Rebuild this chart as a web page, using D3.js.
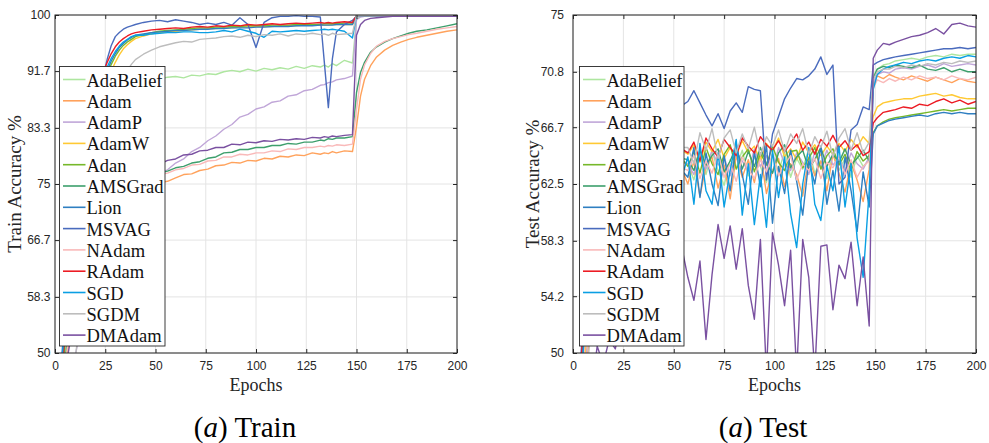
<!DOCTYPE html>
<html>
<head>
<meta charset="utf-8">
<script src="https://cdn.jsdelivr.net/npm/d3@7"></script>
<style>
  body { margin: 0; background: #fff; }
  svg { display: block; }
</style>
</head>
<body>
<div id="chart"></div>
<script>
// Optimizer names (legend order = drawing order)
const optimizers = ["AdaBelief", "Adam", "AdamP", "AdamW", "Adan", "AMSGrad", "Lion",
  "MSVAG", "NAdam", "RAdam", "SGD", "SGDM", "DMAdam"];

const colors = ["#aee6a0", "#ffa25c", "#c0a6d8", "#ffc933", "#76b82a", "#3d9f6c", "#2f7fc1",
  "#4a6bbd", "#f9b9b9", "#ec1c24", "#0a9fe3", "#bdbdbd", "#7a51a1"];

const xTicks = [0, 25, 50, 75, 100, 125, 150, 175, 200];
const trainTicks = [50, 58.3, 66.7, 75, 83.3, 91.7, 100];
const testTicks = [50, 54.2, 58.3, 62.5, 66.7, 70.8, 75];

// ---------- Train accuracy (%) ----------
const trainEpochs = [0, 2, 4, 6, 8, 10, 12, 14, 16, 18, 20, 22, 24, 26, 28, 30, 32, 34, 36, 38, 40,
  44, 48, 52, 56, 60, 64, 68, 72, 76, 80, 84, 88, 92, 96, 100, 104, 108, 112, 116, 120, 124, 128, 132,
  134, 136, 138, 140, 144, 148,
  150, 152, 154, 157, 160, 164, 168, 172, 176, 180, 185, 190, 195, 200];

const trainAdaBelief = [30, 38, 46, 53, 59, 64.5, 69, 73, 76.5, 79.5, 82, 84, 85.7, 87, 88, 88.8, 89.4, 89.8, 90.1, 90.3, 90.4,
  90.4, 90.6, 90.5, 90.8, 90.9, 90.7, 91.1, 91.0, 91.3, 91.2, 91.6, 91.8, 91.6, 92.0, 91.7, 92.1, 91.9, 92.2, 92.0, 92.4, 92.1, 92.5, 92.3,
  92.6, 92.3, 92.8, 92.5, 93.3, 92.9,
  99.4, 99.8, 99.9, 99.9, 99.9, 99.9, 99.9, 99.9, 99.9, 99.9, 99.9, 99.9, 99.9, 99.9];
const trainAdam = [28, 36, 43.5, 49.5, 54, 57.5, 60.2, 62.4, 64.2, 65.7, 67.0, 68.1, 69.0, 69.9, 70.7, 71.4, 72.0, 72.5, 73.0, 73.4, 73.8,
  74.5, 74.8, 75.2, 75.4, 75.9, 76.4, 76.5, 77.0, 77.2, 77.7, 77.8, 78.2, 78.1, 78.5, 78.4, 78.8, 78.7, 79.1, 79.0, 79.3, 79.2, 79.6, 79.4,
  79.6, 79.5, 79.8, 79.6, 79.9, 79.8,
  83.5, 88.0, 90.5, 92.5, 93.8, 94.8, 95.5, 96.0, 96.4, 96.7, 97.0, 97.3, 97.6, 97.8];
const trainAdamP = [25, 31, 37, 42, 46, 49.5, 52.5, 55, 57.5, 59.5, 61.5, 63.3, 65, 66.5, 68, 69.2, 70.3, 71.3, 72.2, 73.0, 73.7,
  74.8, 75.6, 76.6, 77.1, 78.1, 78.7, 79.8, 80.4, 81.4, 82.1, 83.1, 83.8, 84.9, 85.3, 86.1, 86.4, 87.1, 87.3, 88.0, 88.2, 88.8, 89.0, 89.6,
  89.7, 90.0, 90.1, 90.4, 90.6, 91.0,
  99.3, 99.7, 99.8, 99.9, 99.9, 99.9, 99.9, 99.9, 99.9, 99.9, 99.9, 99.9, 99.9, 99.9];
const trainAdamW = [28, 36, 44, 51, 58, 64, 69, 73.5, 77.5, 81, 84, 86.5, 88.5, 90.2, 91.7, 93.0, 94.1, 95.0, 95.6, 96.1, 96.5,
  96.9, 97.2, 97.4, 97.5, 97.6, 97.7, 97.8, 97.9, 98.0, 98.0, 98.1, 98.1, 98.2, 98.2, 98.3, 98.3, 98.3, 98.4, 98.4, 98.4, 98.5, 98.5, 98.5,
  98.5, 98.5, 98.6, 98.6, 98.6, 98.6,
  99.9, 99.9, 99.9, 99.9, 99.9, 99.9, 99.9, 99.9, 99.9, 99.9, 99.9, 99.9, 99.9, 99.9];
const trainAdan = [31, 40, 48, 55, 62, 67.5, 72, 76, 79.5, 82.5, 85.2, 87.5, 89.5, 91.2, 92.7, 93.9, 94.8, 95.5, 96.0, 96.4, 96.8,
  97.1, 97.4, 97.6, 97.7, 97.8, 97.9, 98.0, 98.1, 98.1, 98.2, 98.2, 98.3, 98.3, 98.4, 98.4, 98.4, 98.5, 98.5, 98.5, 98.6, 98.6, 98.6, 98.6,
  98.7, 98.7, 98.7, 98.7, 98.8, 98.8,
  99.9, 99.9, 99.9, 99.9, 99.9, 99.9, 99.9, 99.9, 99.9, 99.9, 99.9, 99.9, 99.9, 99.9];
const trainAMSGrad = [30, 38, 45.5, 51.5, 56, 59.5, 62, 64.2, 66, 67.5, 68.8, 69.9, 70.8, 71.6, 72.3, 73.0, 73.6, 74.1, 74.5, 74.9, 75.3,
  75.8, 76.1, 76.6, 76.9, 77.4, 77.6, 78.1, 78.3, 78.8, 79.0, 79.6, 79.7, 80.1, 80.1, 80.4, 80.4, 80.7, 80.7, 81.0, 80.9, 81.2, 81.2, 81.5,
  81.4, 81.7, 81.6, 81.8, 81.8, 82.0,
  88.5, 91.5, 93.0, 94.5, 95.3, 96.0, 96.5, 96.9, 97.3, 97.6, 97.8, 98.1, 98.4, 98.7];
const trainLion = [34, 42, 50, 57, 63, 69, 73.5, 77.5, 81, 84, 86.5, 88.5, 90.3, 91.8, 93.2, 94.3, 95.2, 95.8, 96.3, 96.7, 97.0,
  97.2, 97.4, 97.5, 97.6, 97.7, 97.7, 97.8, 97.9, 97.9, 98.0, 98.0, 98.1, 98.1, 98.1, 98.2, 98.2, 98.3, 98.3, 98.3, 98.4, 98.4, 98.4, 98.5,
  98.5, 98.5, 98.5, 98.6, 98.6, 98.6,
  99.9, 99.9, 99.9, 99.9, 99.9, 99.9, 99.9, 99.9, 99.9, 99.9, 99.9, 99.9, 99.9, 99.9];
const trainMSVAG = [36, 44, 52, 59, 65, 70, 74, 78, 81, 84, 86.5, 89, 91, 93.5, 95.5, 96.8, 97.4, 97.9, 98.2, 98.4, 98.6,
  98.9, 99.1, 99.2, 99.0, 99.3, 99.1, 98.9, 98.6, 98.8, 98.6, 98.9, 98.5, 99.6, 98.6, 95.2, 98.9, 99.6, 99.8, 99.8, 99.9, 99.8, 99.8, 99.7,
  93.0, 86.3, 93.5, 97.5, 98.6, 99.2,
  99.8, 99.9, 99.9, 99.9, 99.9, 99.9, 99.9, 99.9, 99.9, 99.9, 99.9, 99.9, 99.9, 99.9];
const trainNAdam = [29, 37, 44.5, 50.5, 55, 58.5, 61.2, 63.4, 65.2, 66.8, 68.1, 69.2, 70.2, 71.0, 71.8, 72.5, 73.1, 73.6, 74.1, 74.5, 74.9,
  75.6, 75.8, 76.4, 76.6, 77.1, 77.3, 77.8, 77.9, 78.4, 78.5, 79.0, 79.0, 79.4, 79.3, 79.6, 79.6, 79.9, 79.8, 80.2, 80.1, 80.4, 80.4, 80.6,
  80.5, 80.7, 80.6, 80.8, 80.7, 80.9,
  86.0, 90.5, 92.6, 94.3, 95.4, 96.1, 96.5, 96.8, 97.1, 97.3, 97.6, 97.9, 98.1, 98.3];
const trainRAdam = [30, 40, 49, 57, 64, 70, 75, 79, 82.5, 85.5, 88, 90, 91.5, 93, 94.3, 95.3, 96.0, 96.5, 96.9, 97.2, 97.4,
  97.6, 97.8, 97.9, 98.0, 98.1, 98.0, 98.2, 98.3, 98.2, 98.4, 98.3, 98.5, 98.4, 98.6, 98.5, 98.6, 98.7, 98.6, 98.7, 98.8, 98.7, 98.8, 98.9,
  98.8, 98.9, 98.8, 98.9, 99.0, 98.9,
  99.9, 99.9, 99.9, 99.9, 99.9, 99.9, 99.9, 99.9, 99.9, 99.9, 99.9, 99.9, 99.9, 99.9];
const trainSGD = [33, 43, 51, 58, 64, 69.5, 74, 78, 81.5, 84.5, 87, 89, 90.8, 92.3, 93.6, 94.6, 95.4, 96.0, 96.4, 96.8, 97.0,
  97.0, 97.2, 97.3, 97.4, 97.4, 97.5, 97.5, 97.4, 97.4, 97.5, 97.7, 97.5, 97.9, 97.6, 97.3, 96.7, 97.6, 97.5, 97.6, 97.7, 97.6, 97.7, 97.8,
  97.9, 97.8, 97.9, 97.8, 97.6, 96.6,
  99.9, 99.9, 99.9, 99.9, 99.9, 99.9, 99.9, 99.9, 99.9, 99.9, 99.9, 99.9, 99.9, 99.9];
const trainSGDM = [25, 30, 35, 40, 44, 49, 54, 59, 64, 68.5, 72.5, 76.5, 80, 83, 85.5, 87.5, 89.3, 90.7, 91.8, 92.7, 93.4,
  94.2, 94.8, 95.3, 95.6, 95.9, 96.1, 96.0, 96.4, 96.5, 96.6, 96.8, 96.9, 96.7, 97.0, 96.8, 97.1, 97.0, 97.2, 96.9, 97.2, 97.1, 97.3, 97.1,
  97.2, 97.0, 97.3, 97.1, 97.2, 97.3,
  99.9, 99.9, 99.9, 99.9, 99.9, 99.9, 99.9, 99.9, 99.9, 99.9, 99.9, 99.9, 99.9, 99.9];
const trainDMAdam = [38, 42.5, 46, 49, 52.5, 56, 59, 61.8, 64, 66, 67.8, 69.3, 70.6, 71.7, 72.6, 73.4, 74.1, 74.7, 75.3, 75.8, 76.2,
  77.0, 77.6, 77.9, 78.5, 78.7, 79.3, 79.4, 79.9, 80.0, 80.4, 80.4, 80.9, 80.8, 81.2, 81.1, 81.4, 81.3, 81.6, 81.5, 81.7, 81.6, 81.9, 81.8,
  82.0, 81.9, 82.1, 82.0, 82.2, 82.3,
  97.0, 98.6, 99.2, 99.5, 99.6, 99.7, 99.8, 99.8, 99.8, 99.8, 99.8, 99.8, 99.8, 99.8];

// ---------- Test accuracy (%) ----------
const testEpochs = [0, 3, 6, 9, 12, 15, 18, 21, 24, 27, 30, 33, 36, 39, 42, 45, 48, 51, 54,
  57, 60, 63, 66, 69, 72, 75, 78, 81, 84, 87, 90, 93, 96, 99, 102, 105, 108, 111, 114, 117, 120, 123, 126, 129, 132, 135, 138, 141, 144, 147,
  149, 151, 154, 157, 160, 164, 168, 172, 176, 180, 184, 188, 192, 196, 200];

const testAdaBelief = [36, 45, 52, 56, 58.5, 60, 61, 61.8, 62.4, 62.8, 63.1, 63.3, 63.5, 63.7, 63.8, 63.9, 64.0, 63.8, 64.1,
  64.0, 62.8, 64.6, 63.2, 64.9, 63.5, 62.4, 64.3, 63.7, 65.0, 63.1, 64.5, 63.8, 62.6, 64.7, 63.4, 64.9, 63.0, 64.4, 63.6, 65.1, 63.3, 64.2, 62.9, 64.8, 63.5, 64.4, 63.0, 64.6, 63.8, 64.3,
  70.5, 71.0, 71.3, 71.4, 71.6, 71.7, 71.8, 71.7, 71.9, 72.0, 71.9, 72.1, 72.0, 72.1, 72.1];
const testAdam = [31, 41, 48, 52.5, 55.5, 57.5, 59, 60.2, 61, 61.7, 62.2, 62.6, 62.9, 63.1, 63.3, 63.4, 63.5, 63.6, 63.6,
  62.5, 64.2, 61.6, 63.8, 64.5, 62.2, 63.9, 61.4, 64.6, 63.0, 64.3, 62.6, 64.8, 61.8, 63.5, 64.4, 62.3, 64.0, 63.2, 61.6, 64.5, 63.1, 64.2, 62.0, 64.7, 63.3, 61.9, 64.1, 62.8, 61.2, 63.6,
  69.8, 70.5, 70.3, 70.6, 70.4, 70.2, 70.5, 70.3, 70.1, 70.4, 70.2, 70.0, 70.3, 70.1, 70.0];
const testAdamP = [32, 42, 49, 53.5, 56.5, 58.5, 60, 61, 61.8, 62.4, 62.9, 63.2, 63.5, 63.7, 63.8, 63.9, 64.0, 64.0, 64.1,
  64.0, 63.2, 64.8, 63.6, 65.0, 63.9, 64.5, 63.1, 64.9, 64.2, 63.4, 65.1, 63.8, 64.6, 63.3, 65.2, 64.0, 63.5, 64.8, 64.1, 63.2, 64.9, 63.7, 65.0, 63.9, 64.4, 63.4, 64.8, 64.0, 63.6, 64.5,
  70.0, 70.6, 70.8, 70.7, 71.0, 71.1, 71.0, 71.2, 71.3, 71.1, 71.4, 71.2, 71.3, 71.4, 71.3];
const testAdamW = [33, 43, 50, 54.5, 57.5, 59.5, 61, 62, 62.8, 63.4, 63.8, 64.1, 64.3, 64.5, 64.6, 64.7, 64.8, 64.9, 65.0,
  64.7, 65.4, 64.1, 65.6, 64.9, 65.8, 64.4, 65.2, 64.6, 65.7, 64.8, 65.3, 64.2, 65.5, 64.9, 65.9, 64.5, 65.1, 64.3, 65.6, 64.8, 65.4, 64.6, 65.3, 64.7, 65.5, 64.9, 65.8, 65.2, 66.0, 65.5,
  67.5, 68.2, 68.5, 68.6, 68.7, 68.8, 68.8, 69.0, 69.1, 69.2, 69.0, 69.1, 68.9, 68.8, 68.8];
const testAdan = [36, 46, 52.5, 56.5, 59, 60.5, 61.5, 62.3, 62.9, 63.3, 63.6, 63.8, 64.0, 64.1, 64.2, 64.3, 64.3, 64.4, 64.4,
  63.8, 64.9, 63.3, 65.2, 64.0, 63.2, 64.7, 65.4, 63.6, 64.5, 65.1, 63.4, 64.8, 63.9, 65.3, 64.1, 63.5, 64.9, 65.0, 63.7, 64.4, 65.2, 63.6, 64.6, 65.1, 63.9, 64.7, 63.5, 64.9, 64.2, 64.6,
  66.3, 66.8, 67.1, 67.3, 67.4, 67.5, 67.6, 67.7, 67.8, 67.9, 68.0, 67.9, 68.0, 68.1, 68.1];
const testAMSGrad = [35, 45, 52, 56, 58.5, 60, 61.2, 62, 62.6, 63.1, 63.4, 63.7, 63.9, 64.0, 64.1, 64.2, 64.3, 64.3, 64.4,
  64.3, 63.5, 65.0, 63.9, 64.6, 65.1, 63.4, 64.2, 65.3, 63.6, 64.9, 63.8, 65.2, 64.0, 63.3, 64.8, 65.4, 63.7, 64.5, 65.0, 63.6, 64.3, 65.2, 63.8, 64.7, 64.1, 65.1, 63.9, 64.4, 65.0, 64.2,
  70.3, 71.0, 71.2, 71.1, 71.3, 71.2, 71.1, 71.3, 71.0, 70.9, 71.1, 70.8, 71.0, 70.8, 70.8];
const testLion = [37, 47, 53, 56.5, 58.5, 60, 59, 61.5, 60.5, 62.5, 61, 63, 62, 60.5, 63.5, 62, 64, 61.5, 63.5,
  63.0, 65.2, 61.5, 64.8, 62.5, 60.9, 64.6, 62.0, 65.5, 63.2, 61.0, 64.9, 62.3, 65.4, 59.6, 63.8, 61.8, 65.0, 62.7, 60.2, 64.2, 62.5, 65.3, 61.0, 63.5, 60.5, 64.5, 62.0, 59.0, 63.4, 60.8,
  66.2, 66.8, 67.0, 67.2, 67.3, 67.4, 67.5, 67.6, 67.5, 67.7, 67.8, 67.7, 67.8, 67.7, 67.7];
const testMSVAG = [38, 48, 54, 58, 60.5, 62, 63.2, 64, 64.8, 65.3, 65.8, 66.2, 66.6, 67, 67.3, 67.6, 67.9, 68.1, 68.3,
  68.6, 69.4, 68.5, 67.6, 66.8, 67.7, 66.6, 67.9, 68.5, 67.8, 69.7, 69.5, 69.4, 62.8, 66.2, 67.5, 68.8, 69.6, 70.3, 70.2, 70.5, 71.0, 71.9, 70.6, 71.3, 62.5, 63.0, 66.5, 66.9, 68.2, 68.0,
  71.3, 71.5, 71.7, 71.8, 71.9, 72.0, 72.1, 72.2, 72.3, 72.4, 72.5, 72.5, 72.6, 72.5, 72.6];
const testNAdam = [34, 44, 51, 55, 57.8, 59.5, 60.8, 61.6, 62.2, 62.6, 62.9, 63.1, 63.3, 63.4, 63.5, 63.6, 63.6, 63.7, 63.7,
  63.5, 64.6, 62.9, 64.2, 63.3, 64.8, 63.0, 64.0, 62.7, 64.5, 63.6, 62.9, 64.3, 63.4, 64.7, 63.1, 63.9, 64.6, 62.8, 64.0, 63.5, 64.4, 62.9, 64.1, 63.7, 64.5, 63.2, 64.3, 63.0, 63.8, 64.2,
  69.6, 70.2, 70.0, 70.3, 70.1, 70.4, 70.2, 70.5, 70.3, 70.4, 70.2, 70.5, 70.3, 70.2, 70.4];
const testRAdam = [38, 47, 54, 58, 60.5, 61.8, 62.7, 63.4, 63.9, 64.2, 64.5, 64.8, 64.6, 65.0, 64.8, 65.2, 65.0, 65.3, 65.1,
  64.8, 65.6, 64.2, 65.9, 65.1, 64.5, 65.8, 65.2, 64.6, 65.9, 65.3, 64.8, 66.0, 65.4, 65.0, 65.7, 64.9, 65.5, 66.2, 65.0, 65.6, 64.7, 65.8, 65.3, 66.1, 65.2, 65.7, 65.0, 65.4, 64.6, 64.9,
  67.0, 67.4, 67.8, 67.9, 68.0, 68.2, 68.1, 68.4, 68.3, 68.6, 68.8, 68.5, 68.7, 68.4, 68.6];
const testSGD = [35, 46, 52, 56, 58, 59.5, 61, 60, 62, 61, 63, 60.5, 62.5, 64, 61, 63.5, 62, 64.5, 63,
  64.5, 61.0, 65.5, 62.0, 61.0, 64.8, 60.8, 63.5, 65.8, 60.2, 64.0, 59.5, 63.2, 59.3, 65.0, 61.5, 64.5, 60.3, 57.8, 62.5, 65.2, 61.0, 59.8, 63.8, 62.0, 65.3, 60.8, 64.0, 58.5, 55.6, 62.0,
  69.5, 70.6, 71.0, 71.2, 71.3, 71.5, 71.4, 71.6, 71.7, 71.6, 71.8, 71.9, 71.8, 72.0, 71.9];
const testSGDM = [30, 40, 47, 52, 56, 58.5, 60.5, 61.8, 62.7, 63.4, 63.9, 64.3, 64.7, 64.9, 65.1, 65.3, 65.0, 65.4, 65.2,
  65.2, 64.0, 66.3, 65.0, 66.6, 64.4, 65.9, 66.5, 64.8, 66.2, 65.1, 66.7, 64.6, 66.0, 65.3, 66.5, 64.9, 66.2, 65.5, 66.6, 64.7, 66.0, 65.2, 66.4, 64.5, 65.9, 66.6, 65.0, 66.3, 64.8, 65.6,
  70.2, 70.8, 71.0, 71.0, 71.2, 71.1, 71.3, 71.2, 71.4, 71.3, 71.5, 71.4, 71.6, 71.5, 71.6];
const testDMAdam = [35, 40, 44, 47, 50.5, 49.2, 51.0, 50.3, 52.5, 51.5, 54, 53, 55.5, 54, 56.5, 55, 57.5, 55.5, 57.8,
  55.6, 53.9, 56.8, 51.0, 55.8, 59.5, 57.0, 59.4, 56.2, 59.2, 55.0, 52.5, 58.4, 48.5, 58.9, 56.5, 53.5, 57.6, 48.5, 58.4, 55.6, 48.5, 57.9, 58.0, 53.2, 56.5, 55.5, 58.2, 53.5, 57.1, 52.0,
  71.8, 72.4, 72.9, 72.8, 73.0, 73.2, 73.4, 73.5, 73.7, 74.0, 73.6, 74.3, 74.4, 74.2, 74.1];

const trainSeries = [trainAdaBelief, trainAdam, trainAdamP, trainAdamW, trainAdan, trainAMSGrad, trainLion,
  trainMSVAG, trainNAdam, trainRAdam, trainSGD, trainSGDM, trainDMAdam];
const testSeries = [testAdaBelief, testAdam, testAdamP, testAdamW, testAdan, testAMSGrad, testLion,
  testMSVAG, testNAdam, testRAdam, testSGD, testSGDM, testDMAdam];

// Layout
const width = 989;
const height = 443;
const plotTop = 15;
const plotBottom = 353;
const axisColor = "#262626";
const tickFont = "'Liberation Sans', Arial, sans-serif";
const serifFont = "'Liberation Serif', 'Times New Roman', 'DejaVu Serif', serif";

const svg = d3.select("#chart")
  .append("svg")
  .attr("width", width)
  .attr("height", height);

const defs = svg.append("defs");

function drawPanel(p) {

  const x = d3.scaleLinear()
    .domain([0, 200])
    .range([p.left, p.right]);

  const y = d3.scaleLinear()
    .domain([50, p.yMax])
    .range([plotBottom, plotTop]);

  const g = svg.append("g");

  // clip to plot area
  defs.append("clipPath")
    .attr("id", "clip-" + p.id)
    .append("rect")
    .attr("x", p.left)
    .attr("y", plotTop)
    .attr("width", p.right - p.left)
    .attr("height", plotBottom - plotTop);

  // grid
  g.append("g")
    .selectAll("line")
    .data(xTicks)
    .join("line")
    .attr("x1", d => x(d))
    .attr("x2", d => x(d))
    .attr("y1", plotTop)
    .attr("y2", plotBottom)
    .attr("stroke", "#e4e4e4");

  g.append("g")
    .selectAll("line")
    .data(p.yTicks)
    .join("line")
    .attr("x1", p.left)
    .attr("x2", p.right)
    .attr("y1", d => y(d))
    .attr("y2", d => y(d))
    .attr("stroke", "#e4e4e4");

  // curves
  const line = d3.line()
    .x((d, i) => x(p.epochs[i]))
    .y(d => y(d));

  g.append("g")
    .attr("clip-path", `url(#clip-${p.id})`)
    .selectAll("path")
    .data(p.series)
    .join("path")
    .attr("d", d => line(d))
    .attr("fill", "none")
    .attr("stroke", (d, i) => colors[i])
    .attr("stroke-width", 1.4)
    .attr("stroke-linejoin", "round");

  // axes (ticks inside, mirrored on top/right)
  const styleAxis = sel => {
    sel.select(".domain").remove();
    sel.attr("font-family", tickFont).attr("font-size", 12);
    sel.selectAll("line").attr("stroke", axisColor);
    sel.selectAll("text").attr("fill", axisColor);
  };

  g.append("g")
    .attr("transform", `translate(0, ${plotBottom})`)
    .call(d3.axisBottom(x).tickValues(xTicks).tickSizeInner(-4).tickSizeOuter(0).tickPadding(8))
    .call(styleAxis);

  g.append("g")
    .attr("transform", `translate(0, ${plotTop})`)
    .call(d3.axisTop(x).tickValues(xTicks).tickSizeInner(-4).tickSizeOuter(0).tickFormat(() => ""))
    .call(styleAxis);

  g.append("g")
    .attr("transform", `translate(${p.left}, 0)`)
    .call(d3.axisLeft(y).tickValues(p.yTicks).tickSizeInner(-4).tickSizeOuter(0)
      .tickPadding(p.labelPad).tickFormat(d => d))
    .call(styleAxis);

  g.append("g")
    .attr("transform", `translate(${p.right}, 0)`)
    .call(d3.axisRight(y).tickValues(p.yTicks).tickSizeInner(-4).tickSizeOuter(0).tickFormat(() => ""))
    .call(styleAxis);

  // box
  g.append("rect")
    .attr("x", p.left)
    .attr("y", plotTop)
    .attr("width", p.right - p.left)
    .attr("height", plotBottom - plotTop)
    .attr("fill", "none")
    .attr("stroke", axisColor)
    .attr("stroke-width", 1);

  // axis titles
  g.append("text")
    .attr("x", (p.left + p.right) / 2)
    .attr("y", 391)
    .attr("text-anchor", "middle")
    .attr("fill", axisColor)
    .attr("font-family", serifFont)
    .attr("font-size", 18)
    .text("Epochs");

  g.append("text")
    .attr("transform", `translate(${p.left - 34}, ${(plotTop + plotBottom) / 2}) rotate(-90)`)
    .attr("text-anchor", "middle")
    .attr("fill", axisColor)
    .attr("font-family", serifFont)
    .attr("font-size", 19)
    .text(p.yLabel);

  // legend
  const lg = g.append("g");
  lg.append("rect")
    .attr("x", p.legendX)
    .attr("y", 66.5)
    .attr("width", p.legendW)
    .attr("height", 279.5)
    .attr("fill", "#fff")
    .attr("stroke", axisColor)
    .attr("stroke-width", 0.9);

  const rows = lg.selectAll(".row")
    .data(optimizers)
    .join("g")
    .attr("class", "row")
    .attr("transform", (d, i) => `translate(${p.legendX}, ${86.5 + i * 21.3})`);

  rows.append("line")
    .attr("x1", 3.5)
    .attr("x2", 26)
    .attr("y1", -7)
    .attr("y2", -7)
    .attr("stroke", (d, i) => colors[i])
    .attr("stroke-width", 1.6);

  rows.append("text")
    .attr("x", 27)
    .attr("y", 0)
    .attr("fill", "#111")
    .attr("font-family", serifFont)
    .attr("font-size", 18.5)
    .text(d => d);

  // caption
  const cap = g.append("text")
    .attr("x", p.captionX)
    .attr("y", 437)
    .attr("text-anchor", "middle")
    .attr("fill", "#000")
    .attr("font-family", serifFont)
    .attr("font-size", 29);
  cap.append("tspan").text("(");
  cap.append("tspan").attr("font-style", "italic").text("a");
  cap.append("tspan").text(") " + p.caption);
}

drawPanel({
  id: "train",
  left: 55,
  right: 457,
  yMax: 100,
  yTicks: trainTicks,
  labelPad: 4.5,
  epochs: trainEpochs,
  series: trainSeries,
  yLabel: "Train Accuracy %",
  legendX: 59.5,
  legendW: 105.5,
  caption: "Train",
  captionX: 245
});

drawPanel({
  id: "test",
  left: 573,
  right: 976,
  yMax: 75,
  yTicks: testTicks,
  labelPad: 9,
  epochs: testEpochs,
  series: testSeries,
  yLabel: "Test Accuracy %",
  legendX: 579.5,
  legendW: 104.5,
  caption: "Test",
  captionX: 763
});
</script>
</body>
</html>
